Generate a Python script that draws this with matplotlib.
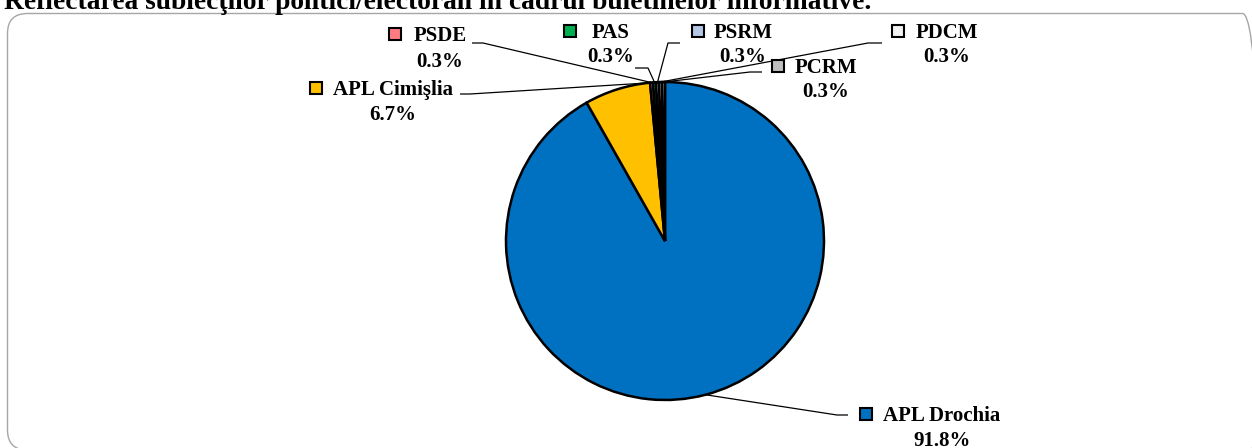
import numpy as np
import matplotlib
matplotlib.use("Agg")
import matplotlib.pyplot as plt
from matplotlib.patches import FancyBboxPatch

# ─── Data ────────────────────────────────────────────────────────────────────

TITLE = "Reflectarea subiecţilor politici/electorali în cadrul buletinelor informative."

subjects = ["APL Drochia", "APL Cimişlia", "PSDE", "PAS", "PSRM", "PDCM", "PCRM"]
shares   = [91.8, 6.7, 0.3, 0.3, 0.3, 0.3, 0.3]
colors   = ["#0070C0", "#FFC000", "#FF7C80", "#00B050", "#B4C7E7", "#F2F2F2", "#BFBFBF"]

# ─── Layout (pixel units, origin top-left) ───────────────────────────────────

W, H = 1252, 448
CENTER = (665, 241)
RADIUS = 159

# name centre x, name baseline, pct baseline, key x
label_pos = {
    "APL Drochia":  (942, 421, 446, 866),
    "APL Cimişlia": (393, 95, 120, 316),
    "PSDE":         (440, 41, 67, 395),
    "PAS":          (611, 38, 62, 570),
    "PSRM":         (743, 38, 62, 698),
    "PDCM":         (947, 38, 62, 898),
    "PCRM":         (826, 73, 97, 778),
}
# leader start, elbow, anchor fraction along the wedge (clockwise)
leader_pos = {
    "APL Drochia":  ((848, 415), (837, 415), 0.5),
    "APL Cimişlia": ((460, 94), (470, 94), 0.97),
    "PSDE":         ((472, 43), (483, 43), 0.5),
    "PAS":          ((635, 68), (648, 68), 0.5),
    "PSRM":         ((680, 43), (668, 43), 0.5),
    "PDCM":         ((882, 43), (868, 43), 0.5),
    "PCRM":         ((762, 72), (750, 72), 0.5),
}

FONT = ["Liberation Serif", "DejaVu Serif"]


def Y(py):
    return H - py


fig = plt.figure(figsize=(W / 100, H / 100), dpi=100, facecolor="white")
ax = fig.add_axes([0, 0, 1, 1])

wedges, _ = ax.pie(shares, colors=colors, startangle=90, counterclock=False,
                   center=(CENTER[0], Y(CENTER[1])), radius=RADIUS,
                   wedgeprops=dict(edgecolor="black", linewidth=1.8))
ax.set_xlim(0, W)
ax.set_ylim(0, H)
ax.set_aspect("auto")
ax.axis("off")

# chart frame
ax.add_patch(FancyBboxPatch((7.5, Y(450)), 1255, 436.5,
                            boxstyle="round,pad=0,rounding_size=20",
                            facecolor="none", edgecolor="#A6A6A6",
                            linewidth=1.0, zorder=0))

fig.text(4 / W, 1 - 9 / H, TITLE, family=FONT, fontsize=19.8,
         fontweight="bold", ha="left", va="baseline")

for name, val, col, w in zip(subjects, shares, colors, wedges):
    cx, yb1, yb2, kx = label_pos[name]
    start, elbow, frac = leader_pos[name]

    # anchor on the wedge rim; clockwise wedge runs theta2 -> theta1
    ang = np.deg2rad(w.theta2 - frac * (w.theta2 - w.theta1))
    axp = CENTER[0] + RADIUS * np.cos(ang)
    ayp = Y(CENTER[1]) + RADIUS * np.sin(ang)
    ax.plot([start[0], elbow[0], axp], [Y(start[1]), Y(elbow[1]), ayp],
            color="black", linewidth=0.9, zorder=4, solid_capstyle="butt")

    ax.text(cx, Y(yb1), name, family=FONT, fontsize=15, fontweight="bold",
            ha="center", va="baseline")
    ax.text(cx, Y(yb2), f"{val:.1f}%", family=FONT, fontsize=15,
            fontweight="bold", ha="center", va="baseline")
    ax.plot(kx, Y(yb1 - 7.5), marker="s", markersize=8, markerfacecolor=col,
            markeredgecolor="black", markeredgewidth=1.5, zorder=5)

fig.savefig("out.png", dpi=100, facecolor="white")
